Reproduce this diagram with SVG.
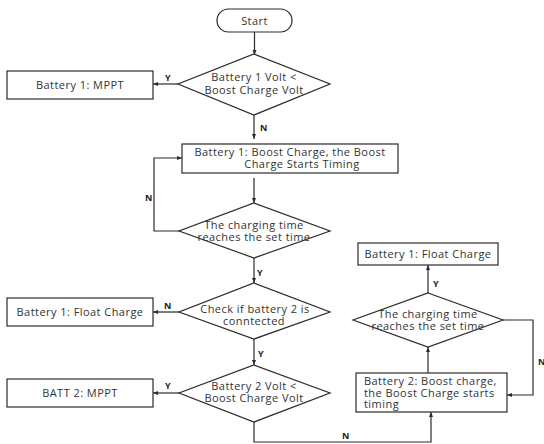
<svg xmlns="http://www.w3.org/2000/svg" width="544" height="444" viewBox="0 0 544 444">
<defs>
<marker id="ah" viewBox="0 0 10 10" refX="10" refY="5" markerWidth="5" markerHeight="5" orient="auto" markerUnits="userSpaceOnUse">
<path d="M0,1 L10,5 L0,9 z" fill="#2b2b2b"/>
</marker>
<style>
.n{fill:#fff;stroke:#2b2b2b;stroke-width:1.2}
.t{font-family:"Open Sans","Liberation Sans",sans-serif;font-size:11px;letter-spacing:0.45px;fill:#333;text-anchor:middle}
.tl{font-family:"Open Sans","Liberation Sans",sans-serif;font-size:11px;letter-spacing:0.45px;fill:#333}
.c{fill:none;stroke:#2b2b2b;stroke-width:1.2;marker-end:url(#ah)}
.l{font-family:"Open Sans","Liberation Sans",sans-serif;font-size:9px;font-weight:bold;fill:#222}
</style>
</defs>
<rect width="544" height="444" fill="#fff"/>
<g id="connectors">
<path class="c" d="M254.5,32 V55"/>
<path class="c" d="M178,84 H153"/>
<path class="c" d="M254,115 V139"/>
<path class="c" d="M254,178 V203"/>
<path class="c" d="M179,231 H154 V158 H182"/>
<path class="c" d="M254,258 V283"/>
<path class="c" d="M179,312 H153"/>
<path class="c" d="M254,339 V365"/>
<path class="c" d="M179,393 H153"/>
<path class="c" d="M254,422 V442 H431 V412"/>
<path class="c" d="M428,373 V347"/>
<path class="c" d="M428,293 V265"/>
<path class="c" d="M503,320 H533 V395 H507"/>
<text class="l" x="165" y="81">Y</text>
<text class="l" x="260" y="131">N</text>
<text class="l" x="145" y="201">N</text>
<text class="l" x="257" y="276">Y</text>
<text class="l" x="164" y="309">N</text>
<text class="l" x="258" y="357">Y</text>
<text class="l" x="165" y="389">Y</text>
<text class="l" x="342" y="439">N</text>
<text class="l" x="433" y="287">Y</text>
<text class="l" x="538" y="365">N</text>
</g>
<g id="start">
<rect class="n" x="217" y="9" width="75" height="23" rx="11.5"/>
<text class="t" x="254.5" y="25">Start</text>
</g>
<g id="d1">
<polygon class="n" points="254,54 330,84 254,115 178,84"/>
<text class="t" x="254" y="81">Battery 1 Volt &lt;</text>
<text class="t" x="254" y="94">Boost Charge Volt</text>
</g>
<g id="b1mppt">
<rect class="n" x="7" y="71" width="146" height="28"/>
<text class="t" x="80" y="89">Battery 1: MPPT</text>
</g>
<g id="b1boost">
<rect class="n" x="182" y="144" width="216" height="29"/>
<text class="t" x="290" y="156">Battery 1: Boost Charge, the Boost</text>
<text class="t" x="302" y="168">Charge Starts Timing</text>
</g>
<g id="d2">
<polygon class="n" points="254,203 330,231 254,258 179,231"/>
<text class="t" x="254" y="229">The charging time</text>
<text class="t" x="254" y="241">reaches the set time</text>
</g>
<g id="d3">
<polygon class="n" points="254,283 330,312 254,339 179,312"/>
<text class="t" x="255" y="313">Check if battery 2 is</text>
<text class="t" x="254" y="325">conntected</text>
</g>
<g id="b1float">
<rect class="n" x="7" y="298" width="146" height="28"/>
<text class="t" x="80" y="316">Battery 1: Float Charge</text>
</g>
<g id="d4">
<polygon class="n" points="254,365 330,393 254,422 179,393"/>
<text class="t" x="254" y="390">Battery 2 Volt &lt;</text>
<text class="t" x="254" y="402">Boost Charge Volt</text>
</g>
<g id="batt2mppt">
<rect class="n" x="7" y="379" width="146" height="28"/>
<text class="t" x="80" y="397">BATT 2: MPPT</text>
</g>
<g id="b2boost">
<rect class="n" x="356" y="373" width="151" height="39"/>
<text class="tl" x="364" y="385">Battery 2: Boost charge,</text>
<text class="tl" x="364" y="397">the Boost Charge starts</text>
<text class="tl" x="364" y="408">timing</text>
</g>
<g id="d5">
<polygon class="n" points="428,293 503,320 428,347 353,320"/>
<text class="t" x="428" y="318">The charging time</text>
<text class="t" x="428" y="330">reaches the set time</text>
</g>
<g id="b1floatR">
<rect class="n" x="358" y="243" width="140" height="22"/>
<text class="t" x="428" y="258">Battery 1: Float Charge</text>
</g>
</svg>
